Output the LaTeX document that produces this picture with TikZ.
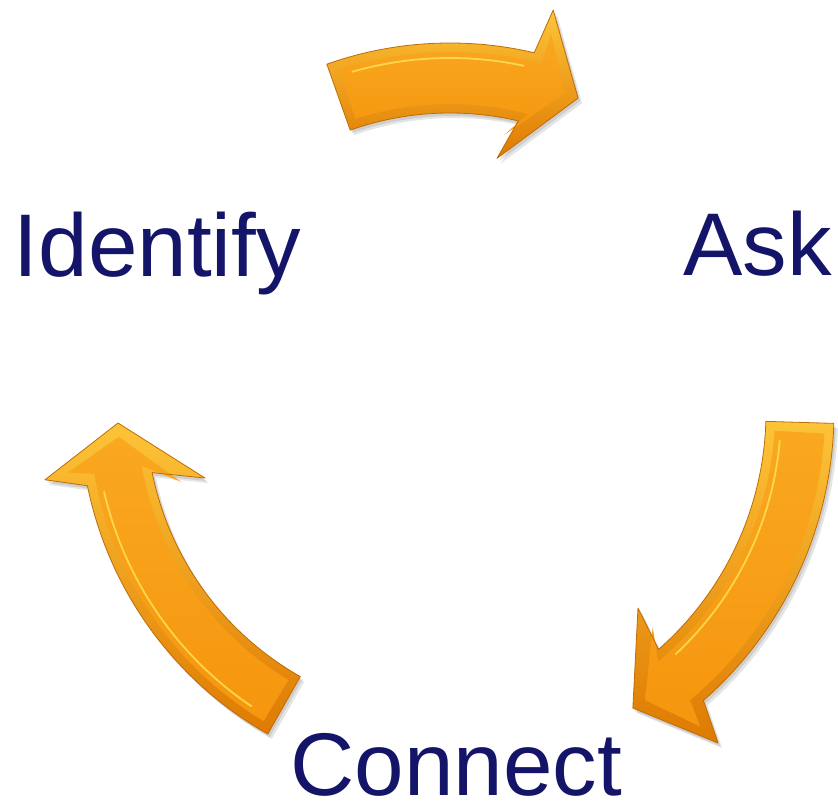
\documentclass[tikz,border=0pt]{standalone}
\usepackage{fontspec}
\setmainfont{Liberation Sans}
\definecolor{labelnavy}{RGB}{20,20,105}
\definecolor{bevelLight}{RGB}{253,196,56}
\definecolor{bevelDark}{RGB}{222,122,2}
\definecolor{bodyLight}{RGB}{249,168,32}
\definecolor{bodyMain}{RGB}{245,150,14}
\definecolor{arrowEdge}{RGB}{190,108,6}
\definecolor{hiYellow}{RGB}{255,228,90}
\tikzset{
  lbl/.style={inner sep=0pt,text=labelnavy,font=\fontsize{89}{100}\selectfont},
  hilite/.style={hiYellow,line width=1.8pt,opacity=0.8,line cap=round},
}
% #1 ri  #2 ro  #3 tail angle  #4 shaft-end angle  #5 outer barb  #6 tip  #7 inner barb
\newcommand{\arrowpath}[7]{(#3:#1pt) -- (#3:#2pt) arc[start angle=#3,end angle=#4,radius=#2pt] -- (#5pt) -- (#6pt) -- (#7pt) -- (#4:#1pt) arc[start angle=#4,end angle=#3,radius=#1pt] -- cycle}
\newcommand{\bevelarrow}[2]{%
  \fill[black,opacity=0.10,xshift=4pt,yshift=-5pt] \arrowpath#1;
  \fill[black,opacity=0.10,xshift=2pt,yshift=-3pt] \arrowpath#1;
  \shade[top color=bevelLight,bottom color=bevelDark] \arrowpath#1;
  \shade[top color=bodyLight,bottom color=bodyMain] \arrowpath#2;
  \draw[arrowEdge,line width=0.8pt,line join=round] \arrowpath#1;
}
\begin{document}
\begin{tikzpicture}[x=1pt,y=1pt]
\useasboundingbox (0,0) rectangle (838,802);
\begin{scope}[shift={(450,390)}]
  % top arrow (towards Ask)
  \bevelarrow{{299}{369}{109.5}{76.8}{75.6:415}{67.8:339}{79.5:258}}
             {{308}{360}{107.9}{75.3}{75.0:391}{70.2:339}{79.0:282}}
  \draw[hilite] (106:354) arc[start angle=106,end angle=78,radius=354pt];
  % right arrow (towards Connect)
  \bevelarrow{{316}{384}{-1.7}{-48.7}{-51.0:426}{-58.3:348}{-46.2:271.6}}
             {{325}{375}{-3.3}{-50.2}{-51.5:402}{-55.9:348}{-46.7:295.6}}
  \draw[hilite] (-5:331) arc[start angle=-5,end angle=-47,radius=331pt];
  % left arrow (towards Identify)
  \bevelarrow{{304}{370}{240.5}{191.5}{189.5:410.7}{181.9:332.2}{195.1:253.7}}
             {{313}{361}{238.9}{189.9}{189.0:386.7}{184.3:332.2}{194.6:277.7}}
  \draw[hilite] (236:355) arc[start angle=236,end angle=193,radius=355pt];
\end{scope}
\node[lbl,anchor=base west] (identify) at (13.7,525) {Identify};
\node[lbl,anchor=base west] (ask) at (683,526) {Ask};
\node[lbl,anchor=base west] (connect) at (290.5,6) {Connect};
\end{tikzpicture}
\end{document}
